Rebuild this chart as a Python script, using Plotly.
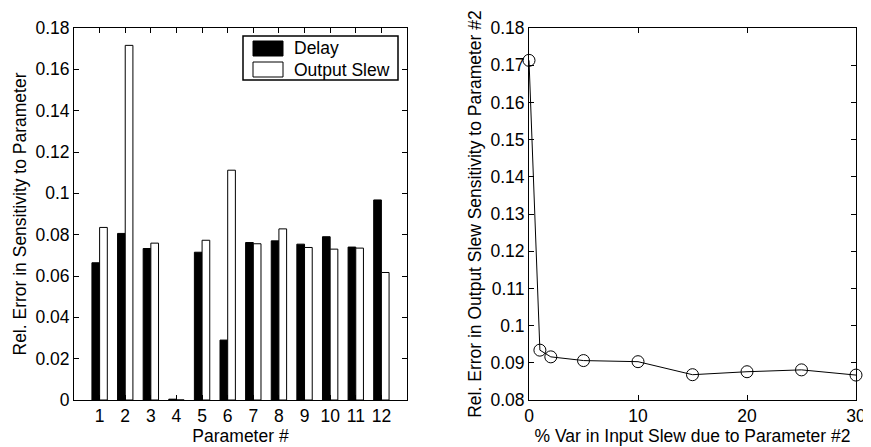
import plotly.graph_objects as go

params = [str(i) for i in range(1, 13)]
param_x = list(range(1, 13))
delay = [0.0664, 0.0806, 0.0733, 0.0004, 0.0715, 0.0290, 0.0762, 0.0770, 0.0754, 0.0790, 0.0740, 0.0968]
output_slew = [0.0835, 0.1716, 0.0759, 0.0, 0.0773, 0.1112, 0.0756, 0.0828, 0.0738, 0.0730, 0.0735, 0.0617]
series_names = ["Delay", "Output Slew"]
series_fill = ["black", "white"]

left_yticks = [0, 0.02, 0.04, 0.06, 0.08, 0.1, 0.12, 0.14, 0.16, 0.18]
left_yticktext = ["0", "0.02", "0.04", "0.06", "0.08", "0.1", "0.12", "0.14", "0.16", "0.18"]

var_pct = [0, 1, 2, 5, 10, 15, 20, 25, 30]
rel_err_p2 = [0.1713, 0.0934, 0.0916, 0.0906, 0.0903, 0.0868, 0.0876, 0.0881, 0.0867]

right_yticks = [0.08, 0.09, 0.1, 0.11, 0.12, 0.13, 0.14, 0.15, 0.16, 0.17, 0.18]
right_yticktext = ["0.08", "0.09", "0.1", "0.11", "0.12", "0.13", "0.14", "0.15", "0.16", "0.17", "0.18"]
right_xticks = [0, 10, 20, 30]

FONT = "Liberation Sans, Arial, Helvetica, sans-serif"
FS = 17.5
W, H = 863, 439
MT, MB = 20, 47
OFF = 8  # page offset of the figure (default body margin)


def px(xp):
    return (xp - OFF) / W


def py(yp):
    return 1 - ((yp - OFF) - MT) / (H - MT - MB)


fig = go.Figure()
fig.add_trace(go.Bar(x=param_x, y=delay, name=series_names[0], showlegend=False,
                     marker=dict(color=series_fill[0], line=dict(color="black", width=1)),
                     xaxis="x", yaxis="y"))
fig.add_trace(go.Bar(x=param_x, y=output_slew, name=series_names[1], showlegend=False,
                     marker=dict(color=series_fill[1], line=dict(color="black", width=1)),
                     xaxis="x", yaxis="y"))
fig.add_trace(go.Scatter(x=var_pct, y=rel_err_p2, mode="lines+markers", showlegend=False,
                         line=dict(color="black", width=1),
                         marker=dict(symbol="circle-open", size=12, color="black", line=dict(width=1)),
                         xaxis="x2", yaxis="y2", cliponaxis=False))

# legend box drawn like the MATLAB legend
shapes = [dict(type="rect", xref="paper", yref="paper", x0=px(243), x1=px(398), y0=py(80), y1=py(36),
               line=dict(color="black", width=1.5), fillcolor="white", layer="above")]
annotations = []
rows = [(41, 56, 48.5), (62, 77, 69.5)]
for (y0, y1, yc), name, fill in zip(rows, series_names, series_fill):
    shapes.append(dict(type="rect", xref="paper", yref="paper", x0=px(253), x1=px(283), y0=py(y1), y1=py(y0),
                       line=dict(color="black", width=1), fillcolor=fill, layer="above"))
    annotations.append(dict(text=name, xref="paper", yref="paper", x=px(292), y=py(yc), xanchor="left",
                            yanchor="middle", showarrow=False, font=dict(family=FONT, size=FS, color="black")))

axis_common = dict(showline=True, linecolor="black", linewidth=1, mirror="ticks", ticks="inside", ticklen=5,
                   tickcolor="black", showgrid=False, zeroline=False,
                   tickfont=dict(family=FONT, size=FS, color="black"))

fig.update_layout(
    width=W, height=H,
    margin=dict(l=0, r=0, t=MT, b=MB),
    paper_bgcolor="white", plot_bgcolor="white",
    font=dict(family=FONT, size=FS, color="black"),
    barmode="group", bargap=0.4, bargroupgap=0,
    showlegend=False,
    shapes=shapes, annotations=annotations,
    xaxis=dict(axis_common, domain=[px(74), px(407)], range=[0, 13], tickvals=param_x, ticktext=params,
               title=dict(text="Parameter #", standoff=0, font=dict(family=FONT, size=FS)), automargin=False, anchor="y"),
    yaxis=dict(axis_common, domain=[0, 1], range=[0, 0.18], tickvals=left_yticks, ticktext=left_yticktext,
               title=dict(text="Rel. Error in Sensitivity to Parameter", standoff=4, font=dict(family=FONT, size=FS)),
               automargin=False, anchor="x"),
    xaxis2=dict(axis_common, domain=[px(529), px(856)], range=[0, 30], tickvals=right_xticks,
                title=dict(text="% Var in Input Slew due to Parameter #2", standoff=0, font=dict(family=FONT, size=FS)),
                automargin=False, anchor="y2"),
    yaxis2=dict(axis_common, domain=[0, 1], range=[0.08, 0.18], tickvals=right_yticks, ticktext=right_yticktext,
                title=dict(text="Rel. Error in Output Slew Sensitivity to Parameter #2", standoff=4, font=dict(family=FONT, size=FS)),
                automargin=False, anchor="x2"),
)

fig.write_html("out.html")
